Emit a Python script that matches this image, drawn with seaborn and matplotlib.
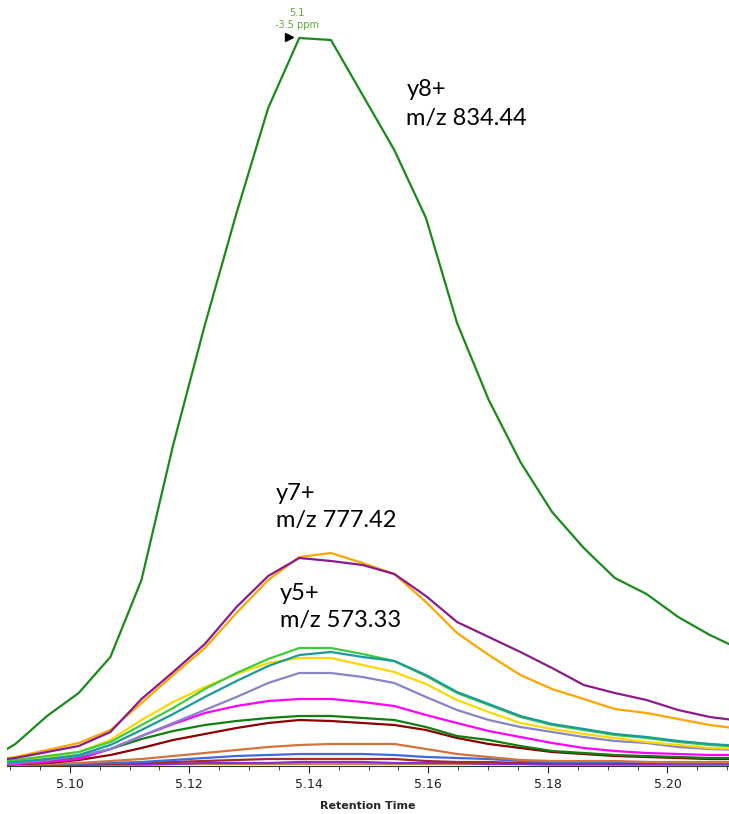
import numpy as np
import pandas as pd
import matplotlib
matplotlib.use('Agg')
import matplotlib.pyplot as plt
import seaborn as sns
from matplotlib.ticker import MultipleLocator, FormatStrFormatter

# retention time grid (min)
rt = [5.0856, 5.0909, 5.0962, 5.1015, 5.1068, 5.1120, 5.1173, 5.1226, 5.1279,
      5.1332, 5.1384, 5.1437, 5.1490, 5.1543, 5.1596, 5.1648, 5.1701, 5.1754,
      5.1807, 5.1860, 5.1912, 5.1965, 5.2018, 5.2071, 5.2124]

# intensities (arbitrary units)
y8 = [2, 21, 49, 72, 108, 185, 320, 440, 552, 657, 727, 725, 670, 615, 547, 442,
      365, 303, 253, 217, 187, 171, 148, 130, 115]
y7 = [3, 7, 13, 19, 33, 66, 93, 121, 158, 189, 207, 204, 200, 191, 169, 143,
      128, 113, 97, 80, 72, 65, 55, 48, 44]
y7b = [3, 8, 15, 22, 35, 62, 90, 117, 152, 185, 208, 212, 202, 191, 163, 132,
       110, 90, 76, 66, 56, 52, 46, 40, 36]
y6 = [2, 5, 9, 13, 23, 40, 57, 76, 92, 106, 117, 117, 111, 104, 89, 72,
      60, 48, 40, 35, 30, 27, 23, 20, 18]
y6b = [2, 4, 8, 13, 25, 45, 63, 78, 91, 102, 107, 107, 100, 93, 81, 65,
       53, 42, 36, 31, 27, 23, 20, 17, 16]
y5 = [1, 3, 6, 10, 20, 35, 51, 68, 84, 99, 110, 113, 108, 104, 90, 73,
      61, 49, 41, 36, 31, 28, 24, 21, 19]
y5b = [1, 2, 5, 9, 16, 29, 42, 55, 68, 82, 92, 92, 88, 82, 68, 55,
       45, 38, 33, 28, 24, 22, 18, 16, 15]
y4 = [0, 1, 3, 6, 16, 29, 41, 52, 59, 64, 66, 66, 63, 59, 50, 42,
      34, 28, 22, 17, 14, 12, 11, 10, 10]
y4b = [0, 1, 4, 8, 16, 26, 34, 40, 44, 47, 49, 49, 47, 45, 38, 29,
       25, 19, 14, 12, 10, 9, 8, 7, 7]
y3 = [0, 1, 2, 5, 10, 17, 25, 31, 37, 42, 45, 44, 42, 40, 35, 27,
      21, 17, 13, 11, 9, 8, 7, 6, 6]
b8 = [0, 0, 1, 2, 4, 6, 9, 12, 15, 18, 20, 21, 21, 21, 16, 11,
      8, 5, 4, 4, 4, 3, 3, 3, 3]
b7 = [0, 0, 0, 1, 2, 3, 5, 7, 9, 10, 11, 11, 11, 10, 8, 7,
      6, 4, 3, 3, 3, 3, 2, 2, 2]
b6 = [0, 0, 0, 1, 1, 2, 3, 4, 5, 6, 6, 6, 6, 6, 4, 3,
      3, 2, 2, 2, 2, 2, 2, 2, 2]
b5 = [0, 0, 0, 0, 1, 1, 1, 2, 2, 2, 3, 3, 3, 2, 2, 2,
      1, 1, 1, 1, 1, 1, 1, 1, 1]
b4 = [0, 0, 0, 0, 0, 0, 1, 1, 1, 1, 1, 1, 1, 1, 1, 1,
      1, 1, 0, 0, 0, 0, 0, 0, 0]

traces = {
    'b4': (b4, '#cd853f'),
    'b5': (b5, '#8a2be2'),
    'b6': (b6, '#a52a2a'),
    'b7': (b7, '#4169e1'),
    'b8': (b8, '#d2743c'),
    'y3': (y3, '#8b0000'),
    'y4b': (y4b, '#108010'),
    'y4': (y4, '#ff00ff'),
    'y5b': (y5b, '#8585c8'),
    'y6b': (y6b, '#ffd700'),
    'y6': (y6, '#3dcc3d'),
    'y5': (y5, '#1a9a9a'),
    'y7b': (y7b, '#ffa500'),
    'y7': (y7, '#8b1a8b'),
    'y8': (y8, '#1a8a1a'),
}

frames = []
for name, (vals, _) in traces.items():
    frames.append(pd.DataFrame({'rt': rt, 'intensity': vals, 'ion': name}))
df = pd.concat(frames, ignore_index=True)
palette = {k: v[1] for k, v in traces.items()}

sns.set_theme(style="ticks")
plt.rcParams['font.family'] = ['DejaVu Sans']

fig = plt.figure(figsize=(7.29, 8.14), dpi=100)
ax = fig.add_axes([7 / 729, 48 / 814, 722 / 729, 766 / 814])

sns.lineplot(data=df, x='rt', y='intensity', hue='ion', palette=palette,
             hue_order=list(traces.keys()), linewidth=1.6, legend=False, ax=ax)

ax.set_xlim(5.0895, 5.2103)
ax.set_ylim(-1, 765)

for s in ['left', 'top', 'right']:
    ax.spines[s].set_visible(False)
ax.spines['bottom'].set_linewidth(0.8)
ax.spines['bottom'].set_color('#333333')
ax.set_yticks([])
ax.set_ylabel('')

ax.xaxis.set_major_locator(MultipleLocator(0.02))
ax.xaxis.set_minor_locator(MultipleLocator(0.005))
ax.xaxis.set_major_formatter(FormatStrFormatter('%.2f'))
ax.tick_params(axis='x', which='major', length=5, width=0.8, labelsize=9,
               direction='out', colors='#222222')
ax.tick_params(axis='x', which='minor', length=3, width=0.6, direction='out',
               colors='#222222')
ax.set_xlabel('Retention Time', fontsize=8, fontweight='bold', labelpad=7)

# apex marker and label
ax.plot([5.1367], [728], marker='>', color='black', markersize=6)
ax.text(5.1380, 752, '5.1', color='#5fa83a', fontsize=7, ha='center', va='center')
ax.text(5.1380, 740, '-3.5 ppm', color='#5fa83a', fontsize=7, ha='center', va='center')

# ion labels
lab = dict(fontsize=17, family='Lato', color='black', ha='left', va='center')
ax.text(5.1563, 675, 'y8+', **lab)
ax.text(5.1563, 647, 'm/z 834.44', **lab)
ax.text(5.1345, 272, 'y7+', **lab)
ax.text(5.1345, 244, 'm/z 777.42', **lab)
ax.text(5.1352, 172, 'y5+', **lab)
ax.text(5.1352, 144, 'm/z 573.33', **lab)

fig.savefig('out.png', dpi=100)
